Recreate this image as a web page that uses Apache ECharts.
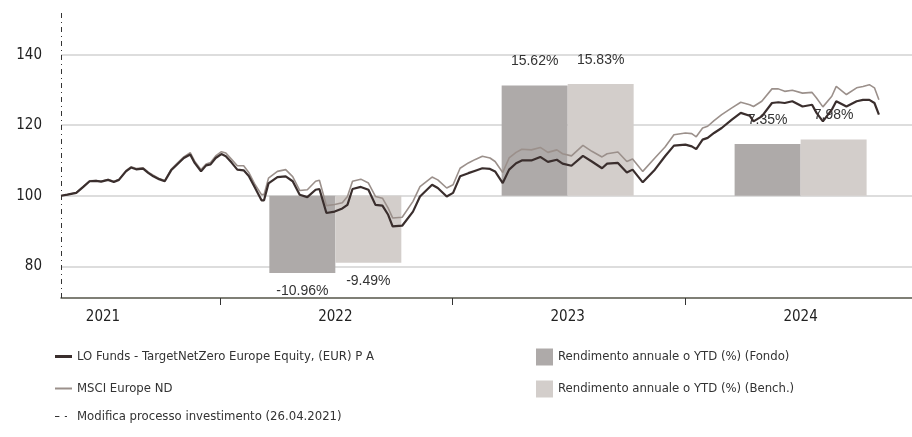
<!DOCTYPE html>
<html>
<head>
<meta charset="utf-8">
<script src="https://cdn.jsdelivr.net/npm/echarts@6/dist/echarts.min.js"></script>
<style>
html,body{margin:0;padding:0;background:#fff;}
#chart{width:912px;height:437px;}
</style>
</head>
<body>
<div id="chart"></div>
<script>
// ---- data ----
const dates = [
'2021-04-26','2021-05-06','2021-05-20','2021-05-31','2021-06-10','2021-06-20','2021-06-28','2021-07-09','2021-07-18','2021-07-26',
'2021-08-06','2021-08-14','2021-08-22','2021-09-02','2021-09-10','2021-09-18','2021-09-27','2021-10-06','2021-10-16','2021-10-25',
'2021-11-05','2021-11-15','2021-11-22','2021-12-02','2021-12-10','2021-12-17','2021-12-25',
'2022-01-03','2022-01-10','2022-01-19','2022-01-28','2022-02-07','2022-02-15','2022-02-25','2022-03-07','2022-03-11','2022-03-18',
'2022-04-01','2022-04-14','2022-04-25','2022-05-06','2022-05-18','2022-05-31','2022-06-06','2022-06-17','2022-06-30','2022-07-12',
'2022-07-20','2022-07-28','2022-08-10','2022-08-22','2022-09-02','2022-09-13','2022-09-22','2022-09-29','2022-10-14','2022-10-31',
'2022-11-11','2022-11-30','2022-12-09','2022-12-23',
'2023-01-02','2023-01-13','2023-01-26','2023-02-06','2023-02-17','2023-03-01','2023-03-09','2023-03-21','2023-03-31','2023-04-11',
'2023-04-20','2023-05-05','2023-05-19','2023-05-31','2023-06-14','2023-06-23','2023-07-07','2023-07-25','2023-08-08','2023-08-24',
'2023-09-01','2023-09-18','2023-10-02','2023-10-11','2023-10-27','2023-11-15','2023-12-01','2023-12-15',
'2024-01-02','2024-01-12','2024-01-19','2024-01-29','2024-02-06','2024-02-16','2024-02-28','2024-03-15','2024-03-29','2024-04-12',
'2024-04-18','2024-05-01','2024-05-17','2024-05-27','2024-06-06','2024-06-18','2024-07-04','2024-07-19','2024-07-26','2024-08-05',
'2024-08-19','2024-08-26','2024-09-11','2024-09-27','2024-10-07','2024-10-17','2024-10-25','2024-11-01'
];
const fundValues = [
100.0,100.3,100.8,102.5,104.1,104.2,104.0,104.5,103.9,104.5,
106.9,108.0,107.5,107.7,106.5,105.5,104.7,104.1,107.2,108.8,
110.7,111.7,109.3,106.9,108.6,108.9,110.7,
111.8,111.2,109.4,107.4,107.2,105.6,102.2,98.7,98.7,103.5,
105.3,105.5,104.1,100.3,99.6,101.7,101.9,95.1,95.5,96.4,
97.4,101.9,102.5,101.7,97.4,97.2,94.6,91.3,91.5,95.5,
99.8,103.1,102.2,99.8,
100.8,105.5,106.4,107.1,107.8,107.6,106.9,103.6,107.4,109.2,
110.0,110.0,111.0,109.6,110.2,109.1,108.5,111.3,109.7,107.8,
109.1,109.3,106.6,107.4,103.8,107.4,111.2,114.2,
114.5,114.0,113.2,115.9,116.4,117.8,119.2,121.6,123.5,122.7,
121.1,122.5,126.3,126.5,126.3,126.8,125.3,125.8,123.5,121.1,
124.4,126.8,125.3,126.8,127.2,127.2,126.3,123.0
];
const benchValues = [
100.0,100.3,100.9,102.6,104.2,104.3,104.1,104.6,104.1,104.6,
107.1,108.2,107.7,107.9,106.7,105.8,104.9,104.3,107.5,109.1,
111.0,112.2,109.8,107.4,109.0,109.4,111.3,
112.5,112.1,110.3,108.5,108.5,106.6,103.1,100.3,100.3,105.0,
106.9,107.4,105.4,101.5,101.7,104.1,104.4,97.2,97.5,98.0,
99.8,104.1,104.7,103.6,99.8,99.3,96.5,93.7,93.9,98.4,
102.6,105.3,104.5,102.2,
103.1,107.8,109.3,110.3,111.2,110.7,109.7,106.6,110.7,112.3,
113.2,113.0,113.7,112.3,113.0,111.9,111.3,114.3,112.6,111.0,
111.9,112.4,109.7,110.4,106.9,110.7,113.8,117.3,
117.8,117.6,116.7,119.2,119.7,121.3,123.0,124.9,126.5,125.8,
125.3,126.8,130.3,130.3,129.6,129.9,129.1,129.3,127.7,125.2,
128.2,131.0,128.7,130.6,131.0,131.5,130.6,127.2
];
const barDates = ['2022-07-01','2023-07-01','2024-07-01'];
const fundReturns = [-10.96, 15.62, 7.35];
const benchReturns = [-9.49, 15.83, 7.98];
const yTickValues = [80, 100, 120, 140];
const yearLabelDates = ['2021-07-01','2022-07-01','2023-07-01','2024-07-01'];
const yearTickDates = ['2022-01-01','2023-01-01','2024-01-01'];
const changeDate = '2021-04-26';
const xStart = '2021-04-26';
const xEnd = '2024-12-23';

const names = {
  fund: 'LO Funds - TargetNetZero Europe Equity, (EUR) P A',
  bench: 'MSCI Europe ND',
  fundBar: 'Rendimento annuale o YTD (%) (Fondo)',
  benchBar: 'Rendimento annuale o YTD (%) (Bench.)',
  change: 'Modifica processo investimento (26.04.2021)'
};

// ---- chart ----
const narrow = "'DejaVu Sans Condensed','Liberation Sans',sans-serif";
const regular = "'Liberation Sans',Arial,sans-serif";
const ts = d => Date.parse(d + 'T00:00:00Z');
const chart = echarts.init(document.getElementById('chart'));

const yMin = 71, yMax = 152.1;
const barBase = 100, barScale = 2;

function barData(vals) {
  return vals.map((v, i) => ({
    value: [ts(barDates[i]), v],
    label: { position: v < 0 ? 'bottom' : 'top', distance: v < 0 ? 11 : 17 }
  }));
}

const legendText = { fontFamily: narrow, fontSize: 13, color: '#333' };

chart.setOption({
  animation: false,
  backgroundColor: '#ffffff',
  grid: { left: 61, right: 0, top: 12, bottom: 139, containLabel: false },
  legend: [
    {
      data: [{ name: names.fund, icon: 'rect' }], left: 55, top: 350, padding: 0,
      itemWidth: 17, itemHeight: 3, textStyle: legendText
    },
    {
      data: [{ name: names.bench, icon: 'rect' }], left: 55, top: 382, padding: 0,
      itemWidth: 17, itemHeight: 2, textStyle: legendText
    },
    {
      data: [{ name: names.change, icon: 'path://M0,0H4V1H0Z M9,0H11V1H9Z' }], left: 55, top: 410, padding: 0,
      itemWidth: 12, itemHeight: 1.2,
      textStyle: Object.assign({ padding: [0, 0, 0, 5] }, legendText)
    },
    {
      data: [{ name: names.fundBar, icon: 'rect' }, { name: names.benchBar, icon: 'rect' }],
      orient: 'vertical', left: 536, top: 348.5, padding: 0,
      itemWidth: 17, itemHeight: 17, itemGap: 15, textStyle: legendText
    }
  ],
  xAxis: {
    type: 'value', min: ts(xStart), max: ts(xEnd),
    axisLine: { show: true, onZero: false, lineStyle: { color: '#55554a', width: 1.5 } },
    axisTick: { show: true, length: 7, customValues: yearTickDates.map(ts), lineStyle: { color: '#333', width: 1 } },
    axisLabel: {
      customValues: yearLabelDates.map(ts), margin: 12,
      fontFamily: narrow, fontSize: 15, color: '#222',
      formatter: v => String(new Date(v).getUTCFullYear())
    },
    splitLine: { show: false }
  },
  yAxis: [
    {
      type: 'value', min: yMin, max: yMax,
      axisLine: { show: false },
      axisTick: { show: false, customValues: yTickValues },
      axisLabel: { customValues: yTickValues, margin: 19, fontFamily: narrow, fontSize: 15, color: '#222' },
      splitLine: { show: true, lineStyle: { color: '#d2d2d2', width: 1.5 } }
    },
    {
      type: 'value', show: false,
      min: (yMin - barBase) / barScale, max: (yMax - barBase) / barScale,
      splitLine: { show: false }
    }
  ],
  series: [
    {
      name: names.fundBar, type: 'bar', yAxisIndex: 1, z: 2,
      barWidth: 66, barGap: '0%',
      itemStyle: { color: '#aeaaa9' },
      label: { show: true, fontFamily: regular, fontSize: 14, color: '#333',
        formatter: p => p.value[1].toFixed(2) + '%' },
      data: barData(fundReturns)
    },
    {
      name: names.benchBar, type: 'bar', yAxisIndex: 1, z: 2,
      barWidth: 66, barGap: '0%',
      itemStyle: { color: '#d3cecb' },
      label: { show: true, fontFamily: regular, fontSize: 14, color: '#333',
        formatter: p => p.value[1].toFixed(2) + '%' },
      data: barData(benchReturns)
    },
    {
      name: names.bench, type: 'line', z: 4, symbol: 'none',
      lineStyle: { color: '#9b908b', width: 1.6 },
      itemStyle: { color: '#9b908b' },
      data: dates.map((d, i) => [ts(d), benchValues[i]])
    },
    {
      name: names.fund, type: 'line', z: 5, symbol: 'none',
      lineStyle: { color: '#3a2e2d', width: 2.2 },
      itemStyle: { color: '#3a2e2d' },
      data: dates.map((d, i) => [ts(d), fundValues[i]])
    },
    {
      name: names.change, type: 'line', z: 6, symbol: 'none',
      lineStyle: { color: '#333', width: 1, type: [5, 4, 1, 4] },
      itemStyle: { color: '#333' },
      data: [],
      markLine: {
        silent: true, symbol: 'none', label: { show: false },
        lineStyle: { color: '#333', width: 1, type: [5, 4, 1, 4] },
        data: [{ xAxis: ts(changeDate) }]
      }
    }
  ]
});
</script>
</body>
</html>
